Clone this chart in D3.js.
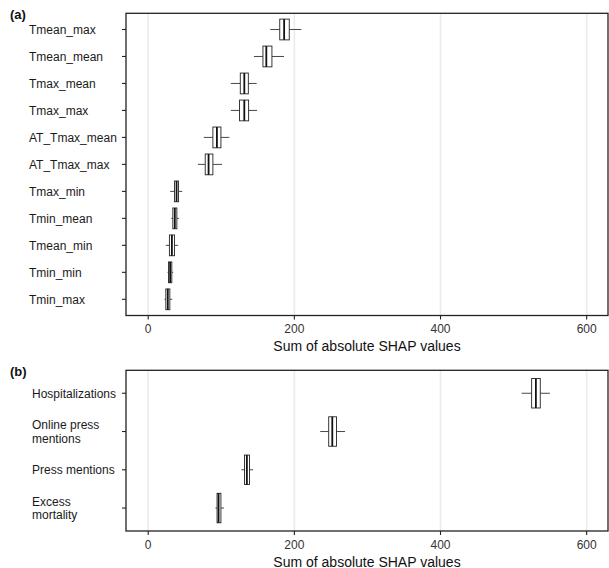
<!DOCTYPE html>
<html><head><meta charset="utf-8">
<script src="https://cdn.jsdelivr.net/npm/d3@7"></script>
<style>body{margin:0;background:#fff}svg{display:block}</style>
</head><body><svg id="chart" width="609" height="568"></svg>
<script>
// ---- data ----
const catsA = ["Tmean_max","Tmean_mean","Tmax_mean","Tmax_max","AT_Tmax_mean","AT_Tmax_max","Tmax_min","Tmin_mean","Tmean_min","Tmin_min","Tmin_max"];
const loA  = [167, 144.7, 113, 113, 76, 68, 30, 31.5, 24, 26.4, 22.3];
const q1A  = [180, 157, 126, 125, 88.5, 78, 36, 33.7, 29, 27.8, 24.1];
const medA = [186, 161.6, 131.5, 131.5, 94, 82.6, 38.8, 36.4, 32.4, 30, 26.8];
const q3A  = [193, 169.3, 137, 137.4, 99.5, 88.5, 41.5, 39.2, 36, 32.3, 29.6];
const hiA  = [209.6, 185.8, 148.4, 149, 111, 101, 46.6, 42, 41, 34.2, 32.9];

const catsB = ["Hospitalizations","Online press\nmentions","Press mentions","Excess\nmortality"];
const loB  = [511, 235.4, 127.5, 92];
const q1B  = [524.7, 247, 131.7, 94.2];
const medB = [530.5, 251.9, 135, 96.3];
const q3B  = [536.5, 257.7, 138.6, 99.5];
const hiB  = [549.7, 269.3, 143.4, 103.7];

const xTicks = [0, 200, 400, 600];
const xTitle = "Sum of absolute SHAP values";
const panelLabels = ["(a)", "(b)"];

// ---- drawing ----
const svg = d3.select("#chart");
const FONT = "'Liberation Sans', Arial, Helvetica, sans-serif";
const left = 126, right = 608;
const x = d3.scaleLinear().domain([-30.4, 629.2]).range([left, right]);

function panel(cats, lo, q1, med, q3, hi, top, bottom, label, labelX) {
  const g = svg.append("g");
  const y = d3.scalePoint().domain(cats).range([top, bottom]).padding(0.6);
  const bh = y.step() * 0.77;

  // grid
  g.append("g").selectAll("line").data(xTicks).join("line")
    .attr("x1", d => x(d)).attr("x2", d => x(d))
    .attr("y1", top).attr("y2", bottom)
    .attr("stroke", "#ebebeb").attr("stroke-width", 1.6);

  const rows = cats.map((c, i) => ({c, lo: lo[i], q1: q1[i], med: med[i], q3: q3[i], hi: hi[i]}));
  const bx = g.append("g").selectAll("g").data(rows).join("g");
  bx.append("line").attr("x1", d => x(d.lo)).attr("x2", d => x(d.q1))
    .attr("y1", d => y(d.c)).attr("y2", d => y(d.c)).attr("stroke", "#333").attr("stroke-width", 0.9);
  bx.append("line").attr("x1", d => x(d.q3)).attr("x2", d => x(d.hi))
    .attr("y1", d => y(d.c)).attr("y2", d => y(d.c)).attr("stroke", "#333").attr("stroke-width", 0.9);
  bx.append("rect").attr("x", d => x(d.q1)).attr("width", d => x(d.q3) - x(d.q1))
    .attr("y", d => y(d.c) - bh / 2).attr("height", bh)
    .attr("fill", "#fff").attr("stroke", "#222").attr("stroke-width", 0.9);
  bx.append("line").attr("x1", d => x(d.med)).attr("x2", d => x(d.med))
    .attr("y1", d => y(d.c) - bh / 2).attr("y2", d => y(d.c) + bh / 2)
    .attr("stroke", "#111").attr("stroke-width", 1.8);

  // border
  g.append("rect").attr("x", left).attr("y", top).attr("width", right - left).attr("height", bottom - top)
    .attr("fill", "none").attr("stroke", "#222").attr("stroke-width", 1.3);

  // y axis ticks and labels
  const yt = g.append("g").selectAll("g").data(cats).join("g");
  yt.append("line").attr("x1", left - 4).attr("x2", left).attr("y1", d => y(d)).attr("y2", d => y(d))
    .attr("stroke", "#222").attr("stroke-width", 1.1);
  yt.each(function(d) {
    const lines = d.split("\n");
    const t = d3.select(this).append("text")
      .attr("font-family", FONT).attr("font-size", 12).attr("fill", "#1a1a1a");
    lines.forEach((ln, k) => {
      t.append("tspan").attr("x", labelX)
        .attr("y", y(d) + 4.3 + (k - (lines.length - 1) / 2) * 13.5).text(ln);
    });
  });

  // x axis
  const xt = g.append("g").selectAll("g").data(xTicks).join("g");
  xt.append("line").attr("x1", d => x(d)).attr("x2", d => x(d)).attr("y1", bottom).attr("y2", bottom + 4)
    .attr("stroke", "#222").attr("stroke-width", 1.1);
  xt.append("text").attr("x", d => x(d)).attr("y", bottom + 17.5).attr("text-anchor", "middle")
    .attr("font-family", FONT).attr("font-size", 12).attr("fill", "#333").text(d => d);
  g.append("text").attr("x", (left + right) / 2).attr("y", bottom + 35.5).attr("text-anchor", "middle")
    .attr("font-family", FONT).attr("font-size", 14).attr("fill", "#111").text(xTitle);

  svg.append("text").attr("x", 10).attr("y", top + 6).attr("font-family", FONT)
    .attr("font-weight", "bold").attr("font-size", 13).attr("fill", "#111").text(label);
}

panel(catsA, loA, q1A, medA, q3A, hiA, 13.3, 315.5, panelLabels[0], 29);
panel(catsB, loB, q1B, medB, q3B, hiB, 370.3, 531, panelLabels[1], 32);
</script></body></html>
